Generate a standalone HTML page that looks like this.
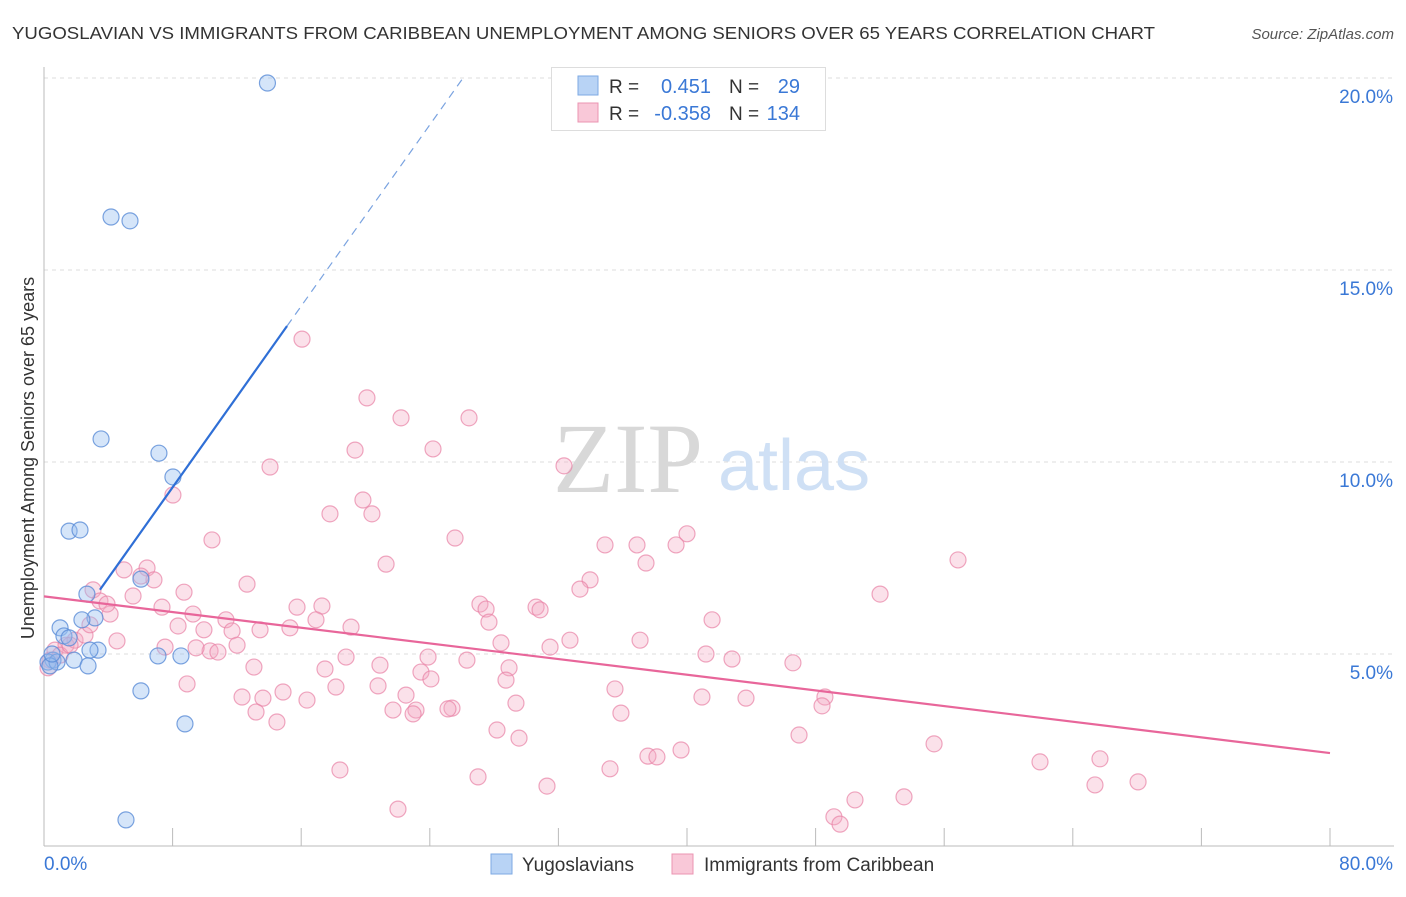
<!DOCTYPE html>
<html><head><meta charset="utf-8"><style>
body{margin:0;background:#fff;font-family:"Liberation Sans",sans-serif;}
svg text{font-family:"Liberation Sans",sans-serif;}
</style></head><body>
<svg id="chart" width="1406" height="892" xmlns="http://www.w3.org/2000/svg">
<text x="12" y="39" font-size="17.5" fill="#333" textLength="1143" lengthAdjust="spacingAndGlyphs">YUGOSLAVIAN VS IMMIGRANTS FROM CARIBBEAN UNEMPLOYMENT AMONG SENIORS OVER 65 YEARS CORRELATION CHART</text>
<text x="1394" y="39" font-size="15" font-style="italic" fill="#555" text-anchor="end">Source: ZipAtlas.com</text>
<g id="grid"></g>
<text x="553" y="492" font-size="100" font-family="Liberation Serif" fill="#d8d8d8" style="font-family:'Liberation Serif',serif">ZIP</text>
<text x="718" y="490" font-size="72" fill="#cfe0f5">atlas</text>
<g id="axes"></g>
<g id="marks"></g>
<text transform="translate(34,458) rotate(-90)" font-size="18" fill="#333" text-anchor="middle">Unemployment Among Seniors over 65 years</text>
<g>
<rect x="551.5" y="67.5" width="274" height="63" fill="#fff" stroke="#ddd"/>
<rect x="578" y="76" width="20" height="19" fill="#b8d3f5" stroke="#7ea9e3"/>
<rect x="578" y="103" width="20" height="19" fill="#f9c8d8" stroke="#eb94b2"/>
<text x="609" y="93" font-size="19" fill="#333">R =</text>
<text x="711" y="93" font-size="20" fill="#3a78d6" text-anchor="end">0.451</text>
<text x="729" y="93" font-size="19" fill="#333">N =</text>
<text x="800" y="93" font-size="20" fill="#3a78d6" text-anchor="end">29</text>
<text x="609" y="120" font-size="19" fill="#333">R =</text>
<text x="711" y="120" font-size="20" fill="#3a78d6" text-anchor="end">-0.358</text>
<text x="729" y="120" font-size="19" fill="#333">N =</text>
<text x="800" y="120" font-size="20" fill="#3a78d6" text-anchor="end">134</text>
</g>
<g>
<rect x="491" y="854" width="21" height="20" fill="#b8d3f5" stroke="#7ea9e3"/>
<text x="522" y="871" font-size="19" fill="#333">Yugoslavians</text>
<rect x="672" y="854" width="21" height="20" fill="#f9c8d8" stroke="#eb94b2"/>
<text x="704" y="871" font-size="19" fill="#333">Immigrants from Caribbean</text>
</g>
</svg>
<script>
const yTicks=[5,10,15,20];
const yTickLabels=["5.0%","10.0%","15.0%","20.0%"];
const xTicks=[0,8,16,24,32,40,48,56,64,72,80];
const xEndLabels=["0.0%","80.0%"];
const blueX=[13.9,4.17,5.35,3.55,7.15,8.02,1.56,2.24,6.03,2.67,3.17,2.36,1.0,1.24,1.56,3.36,2.86,7.09,8.52,0.56,0.25,0.81,1.87,2.74,6.03,8.77,5.1,0.37,0.5];
const blueY=[19.87,16.38,16.28,10.6,10.23,9.61,8.2,8.23,6.95,6.56,5.94,5.89,5.68,5.47,5.42,5.1,5.1,4.95,4.95,4.84,4.79,4.79,4.84,4.69,4.04,3.18,0.68,4.69,5.0];
const pinkX=[16.05,20.09,22.21,26.44,19.35,24.2,32.35,14.06,8.02,19.84,17.79,20.4,25.57,10.45,34.9,36.89,40.0,39.32,56.86,37.45,21.28,4.98,6.41,6.84,6.03,33.97,3.05,33.34,12.63,8.71,52.01,3.48,5.54,27.12,30.61,30.86,27.5,17.29,15.74,9.27,4.11,7.34,3.92,11.32,41.56,27.68,8.34,13.44,19.1,15.3,11.7,9.95,16.92,32.72,37.08,28.43,4.54,12.01,7.53,10.33,10.82,31.48,9.46,41.18,42.8,46.59,23.89,18.79,20.9,26.31,28.93,13.06,17.48,23.45,24.07,28.74,18.16,20.78,8.9,14.87,35.52,22.52,12.32,16.36,13.62,43.67,40.93,48.58,48.4,29.36,25.38,25.13,21.71,23.14,22.96,35.89,13.19,14.49,28.18,29.55,46.97,55.37,39.63,37.57,38.13,65.69,61.96,18.41,35.21,27.0,68.06,65.38,31.29,53.5,50.45,22.02,49.14,49.52,0.37,0.68,1.37,1.93,2.55,1.0,1.62,0.25,2.86];
const pinkY=[13.2,11.67,11.15,11.15,10.31,10.34,9.9,9.87,9.14,9.01,8.65,8.65,8.02,7.97,7.84,7.84,8.13,7.84,7.45,7.37,7.34,7.19,7.24,6.93,7.03,6.93,6.67,6.69,6.82,6.61,6.56,6.38,6.51,6.3,6.22,6.15,6.17,6.25,6.22,6.04,6.04,6.22,6.3,5.89,5.89,5.83,5.73,5.63,5.7,5.68,5.6,5.63,5.89,5.36,5.36,5.29,5.34,5.23,5.18,5.08,5.05,5.18,5.16,5.0,4.87,4.77,4.92,4.92,4.71,4.84,4.64,4.66,4.61,4.53,4.35,4.32,4.14,4.17,4.22,4.01,4.09,3.93,3.88,3.8,3.85,3.85,3.88,3.88,3.65,3.72,3.59,3.57,3.54,3.54,3.44,3.46,3.49,3.23,3.02,2.81,2.89,2.66,2.5,2.34,2.32,2.27,2.19,1.98,2.01,1.8,1.67,1.59,1.56,1.28,1.2,0.96,0.76,0.57,4.84,5.1,5.23,5.36,5.49,4.97,5.23,4.64,5.76];
const blueFit=[4.62,0.59];
const blueRange=[3.48,15.12,26.0];
const pinkFit=[6.5,-0.051];
const pinkRange=[0,80];

const NS="http://www.w3.org/2000/svg";
const X=v=>44+v*(1286/80);
const Y=v=>846-v*38.4;
function mk(tag,attrs,parent){const e=document.createElementNS(NS,tag);for(const k in attrs)e.setAttribute(k,attrs[k]);parent.appendChild(e);return e;}
const grid=document.getElementById('grid'),axes=document.getElementById('axes'),marks=document.getElementById('marks');
yTicks.forEach((t,i)=>{
 const l=mk('line',{x1:44,x2:1394,y1:Y(t),y2:Y(t),stroke:'#ddd','stroke-dasharray':'4,4'},grid);
 
 
 const tx=mk('text',{x:1393,y:Y(t)+25,'font-size':19,fill:'#3a78d6','text-anchor':'end'},axes);
 tx.textContent=yTickLabels[i];
 
 
});
const al=mk('line',{x1:44,x2:44,y1:67,y2:846,stroke:'#bbb'},axes);


const bl=mk('line',{x1:44,x2:1394,y1:846,y2:846,stroke:'#bbb'},axes);


xTicks.forEach(t=>{
 const l=mk('line',{x1:X(t),x2:X(t),y1:828,y2:846,stroke:'#bbb'},axes);
 
 
});
const xl0=mk('text',{x:44,y:870,'font-size':19,fill:'#3a78d6'},axes);xl0.textContent=xEndLabels[0];


const xl1=mk('text',{x:1393,y:870,'font-size':19,fill:'#3a78d6','text-anchor':'end'},axes);xl1.textContent=xEndLabels[1];



pinkX.forEach((x,i)=>{
 const c=mk('circle',{cx:X(x),cy:Y(pinkY[i]),r:8,fill:'rgba(244,170,196,0.35)',stroke:'rgba(232,130,165,0.7)','stroke-width':1.2},marks);
 
 
});
blueX.forEach((x,i)=>{
 const c=mk('circle',{cx:X(x),cy:Y(blueY[i]),r:8,fill:'rgba(150,190,240,0.4)',stroke:'rgba(90,140,215,0.8)','stroke-width':1.2},marks);
 
 
});
const bf=x=>blueFit[0]+blueFit[1]*x, pf=x=>pinkFit[0]+pinkFit[1]*x;
const t1=mk('line',{x1:X(blueRange[0]),y1:Y(bf(blueRange[0])),x2:X(blueRange[1]),y2:Y(bf(blueRange[1])),stroke:'#2f6fd6','stroke-width':2.2},marks);


const t2=mk('line',{x1:X(blueRange[1]),y1:Y(bf(blueRange[1])),x2:X(blueRange[2]),y2:Y(bf(blueRange[2])),stroke:'#7aa3e0','stroke-width':1.2,'stroke-dasharray':'8,6'},marks);


const t3=mk('line',{x1:X(pinkRange[0]),y1:Y(pf(pinkRange[0])),x2:X(pinkRange[1]),y2:Y(pf(pinkRange[1])),stroke:'#e8669a','stroke-width':2.2},marks);


</script>
</body></html>
